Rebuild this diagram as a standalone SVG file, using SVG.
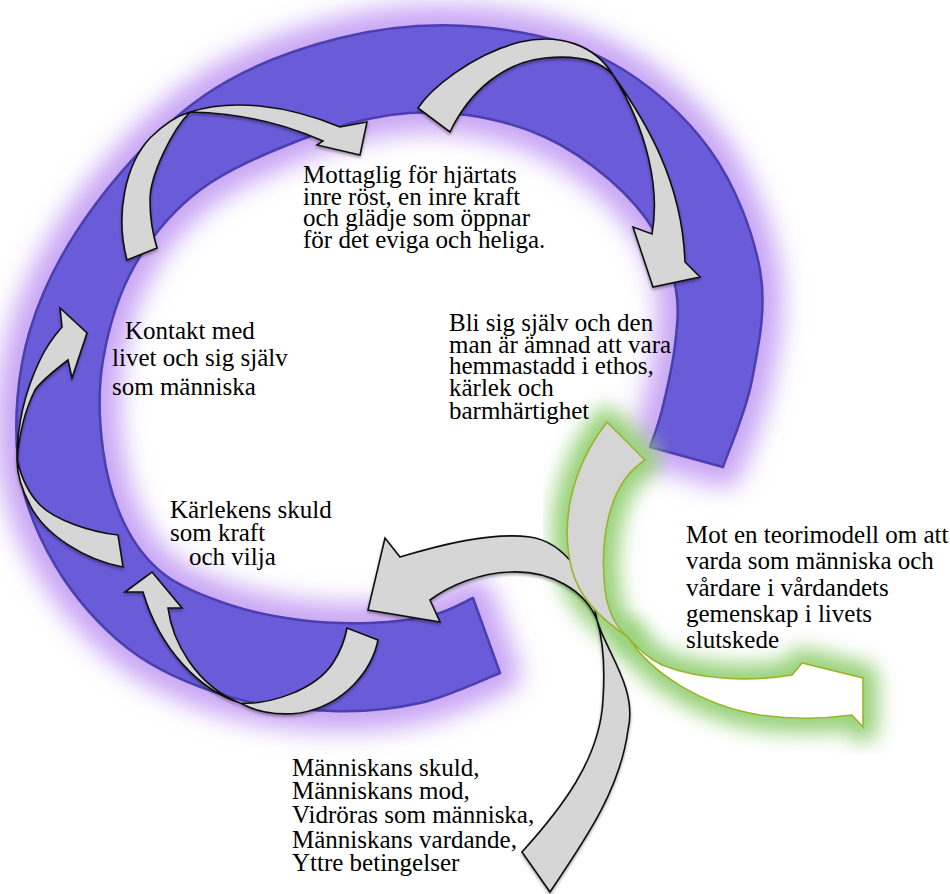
<svg xmlns="http://www.w3.org/2000/svg" width="950" height="894" viewBox="0 0 950 894">
<defs>
  <filter id="glowP" x="-20%" y="-20%" width="140%" height="140%"><feGaussianBlur stdDeviation="12"/></filter>
  <filter id="glowG" x="-30%" y="-30%" width="160%" height="160%"><feGaussianBlur stdDeviation="10"/></filter>
  <filter id="shadow" x="-10%" y="-10%" width="120%" height="120%"><feDropShadow dx="0" dy="2" stdDeviation="1.5" flood-color="#000" flood-opacity="0.35"/></filter>
  <path id="ringPath" d="M500,673 C486.7,678 447.8,696.7 420,703 C392.2,709.3 364.7,712 333,711 C301.3,710 263.8,707.2 230,697 C196.2,686.8 159.2,672 130,650 C100.8,628 73.7,596.7 55,565 C36.3,533.3 22.2,499.2 18,460 C13.8,420.8 17.2,372.5 30,330 C42.8,287.5 65.8,244.2 95,205 C124.2,165.8 164.2,122.8 205,95 C245.8,67.2 294.2,49.3 340,38 C385.8,26.7 435,23 480,27 C525,31 571.7,41.5 610,62 C648.3,82.5 685,115.3 710,150 C735,184.7 753,231.7 760,270 C767,308.3 758.2,347.2 752,380 C745.8,412.8 727.8,452.5 723,467 L650,447 C652,440.8 657.8,427 662,410 C666.2,393 672.7,365 675,345 C677.3,325 679.3,308.8 676,290 C672.7,271.2 666,250.3 655,232 C644,213.7 628.3,195.8 610,180 C591.7,164.2 568.8,147.8 545,137 C521.2,126.2 492.8,118.7 467,115 C441.2,111.3 417.8,110.8 390,115 C362.2,119.2 331.7,127.5 300,140 C268.3,152.5 227.5,169.2 200,190 C172.5,210.8 151.2,236.7 135,265 C118.8,293.3 108.3,329.2 103,360 C97.7,390.8 99.3,422.5 103,450 C106.7,477.5 114.7,504.2 125,525 C135.3,545.8 147.5,561.7 165,575 C182.5,588.3 207.5,597.5 230,605 C252.5,612.5 276.7,617 300,620 C323.3,623 347.8,623.8 370,623 C392.2,622.2 415.8,619.2 433,615 C450.2,610.8 466.3,600.8 473,598 Z"/>
  <path id="greenGray" d="M607,422 L645,460 C606,485 600,545 605,590 C608,612 617,628 628,637 C605,622 580,600 572,570 C560,525 570,470 607,422 Z"/>
  <path id="greenWhite" d="M628,637 C650,672 700,705 760,715 C795,720 830,718 852,715 L863,727 L863,678 L802,663 L792,675 C750,682 700,680 662,665 C648,658 637,648 628,637 Z"/>
</defs>
<style>
  .ring { fill: #6a5bd9; stroke: #4b3fae; stroke-width: 2.5; stroke-linejoin: round; }
  .glowP { fill: #c9a6f5; stroke: #c9a6f5; stroke-width: 40; stroke-linejoin: round; }
  .glowG { fill: #98d27a; stroke: #98d27a; stroke-width: 30; stroke-linejoin: round; }
  .arr { fill: #d6d6d6; stroke: #111; stroke-width: 1.6; stroke-linejoin: miter; }
  .garr { stroke: #9ab52a; stroke-width: 1.6; stroke-linejoin: miter; }
  text { font-family: 'Liberation Serif', 'Times New Roman', serif; font-size: 25px; fill: #000; }
</style>
<rect width="950" height="894" fill="#fff"/>

<g id="ring">
  <use href="#ringPath" class="glowP" filter="url(#glowP)"/>
  <use href="#ringPath" class="ring"/>
</g>

<g id="green-glow">
  <use href="#greenGray" class="glowG" filter="url(#glowG)"/>
  <use href="#greenWhite" class="glowG" filter="url(#glowG)"/>
</g>

<g id="connectors" filter="url(#shadow)">
  <path id="arrow-top-left" class="arr" d="M127,260 C115,215 125,165 150,138 C165,123 180,115 190,112 C230,99 285,104 340,127 L367,122 L360,155 L317,145 L323,141 C285,124 240,113 190,112 C172,130 150,175 150,200 C150,220 153,235 157,248 Z"/>
  <path id="arrow-top-right" class="arr" d="M418,108 C430,90 470,55 520,42 C560,33 595,45 613,75 C645,120 682,180 685,262 L700,277 L653,287 L633,227 L652,234 C660,190 648,130 613,75 C600,60 575,55 545,58 C505,62 470,90 450,132 Z"/>
  <path id="arrow-left" class="arr" d="M118,535 L123,567 C85,560 45,535 30,505 C22,490 17,475 17,460 C17,420 28,385 40,360 C47,345 55,335 62,327 L60,308 L87,333 L72,378 L68,360 C55,370 42,380 35,390 C25,410 19,435 17,460 C22,480 30,495 40,505 C55,520 90,532 118,535 Z"/>
  <path id="arrow-bottom-left" class="arr" d="M125,592 L152,572 L182,608 L168,608 C172,640 195,685 240,703 C270,705 315,690 333,663 C340,652 345,640 347,628 L378,640 C372,670 345,705 300,713 C275,716 255,711 240,703 C200,690 160,650 143,592 Z"/>
  <path id="arrow-bottom" class="arr" d="M368,610 L385,538 L400,557 C440,545 490,532 530,537 C565,542 590,580 597,620 C605,650 638,688 628,730 C620,790 585,840 550,892 L522,852 C560,810 600,760 603,700 C605,670 603,640 597,620 C585,590 550,570 510,572 C480,573 450,585 430,600 L440,622 Z"/>
</g>

<g id="arrow-outcome">
  <use href="#greenGray" class="garr" fill="#d5d5d5"/>
  <use href="#greenWhite" class="garr" fill="#ffffff"/>
</g>

<g id="node-mottaglig">
  <text x="303" y="183">Mottaglig för hjärtats</text>
  <text x="303" y="204.5">inre röst, en inre kraft</text>
  <text x="303" y="226">och glädje som öppnar</text>
  <text x="303" y="247.5">för det eviga och heliga.</text>
</g>
<g id="node-bli">
  <text x="449" y="331">Bli sig själv och den</text>
  <text x="449" y="352.5">man är ämnad att vara</text>
  <text x="449" y="374">hemmastadd i ethos,</text>
  <text x="449" y="395.5">kärlek och</text>
  <text x="449" y="419">barmhärtighet</text>
</g>
<g id="node-kontakt">
  <text x="125" y="339">Kontakt med</text>
  <text x="112" y="366">livet och sig själv</text>
  <text x="112" y="395">som människa</text>
</g>
<g id="node-karlekens">
  <text x="170" y="518">Kärlekens skuld</text>
  <text x="170" y="541">som kraft</text>
  <text x="189" y="565">och vilja</text>
</g>
<g id="node-mot">
  <text x="686" y="543">Mot en teorimodell om att</text>
  <text x="686" y="569">varda som människa och</text>
  <text x="686" y="596">vårdare i vårdandets</text>
  <text x="686" y="622">gemenskap i livets</text>
  <text x="686" y="648">slutskede</text>
</g>
<g id="node-manniskans">
  <text x="292" y="776">Människans skuld,</text>
  <text x="292" y="799">Människans mod,</text>
  <text x="292" y="823">Vidröras som människa,</text>
  <text x="292" y="848">Människans vardande,</text>
  <text x="292" y="871">Yttre betingelser</text>
</g>
</svg>
